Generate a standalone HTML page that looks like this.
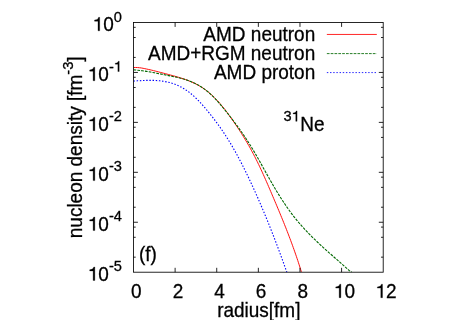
<!DOCTYPE html>
<html><head><meta charset="utf-8"><title>plot</title>
<style>
html,body{margin:0;padding:0;background:#fff;}
body{width:457px;height:320px;overflow:hidden;}
svg{display:block;will-change:transform;}
text{font-family:"Liberation Sans",sans-serif;fill:#000;stroke:#000;stroke-width:0.28px;font-size:19.0px;}
.h{fill:none;stroke:none;}
</style></head><body>
<svg width="457" height="320" viewBox="0 0 457 320">
<rect width="457" height="320" fill="#fff"/>
<defs><clipPath id="box"><rect x="133.5" y="22.5" width="249.70" height="249.70"/></clipPath></defs>
<g fill="none" stroke-width="0.95" stroke-linejoin="round" clip-path="url(#box)">
<path d="M133.49,81.02 L135.43,80.91 L137.38,80.80 L139.32,80.70 L141.26,80.61 L143.18,80.53 L145.10,80.45 L147.01,80.40 L148.90,80.37 L150.77,80.36 L152.62,80.38 L154.44,80.43 L156.24,80.52 L158.02,80.64 L159.76,80.80 L161.47,81.00 L163.16,81.24 L164.81,81.52 L166.44,81.84 L168.04,82.19 L169.61,82.59 L171.15,83.02 L172.66,83.49 L174.14,84.00 L175.59,84.54 L177.02,85.13 L178.41,85.75 L179.78,86.41 L181.12,87.10 L182.44,87.83 L183.73,88.59 L185.00,89.38 L186.25,90.20 L187.48,91.05 L188.68,91.93 L189.86,92.83 L191.03,93.76 L192.17,94.72 L193.30,95.69 L194.41,96.69 L195.51,97.71 L196.59,98.75 L197.66,99.81 L198.71,100.89 L199.75,101.98 L200.78,103.09 L201.80,104.21 L202.81,105.35 L203.81,106.49 L204.81,107.65 L205.79,108.82 L206.77,109.99 L207.75,111.18 L208.71,112.37 L209.68,113.56 L210.64,114.76 L211.59,115.97 L212.54,117.19 L213.49,118.41 L214.43,119.64 L215.36,120.87 L216.29,122.12 L217.21,123.37 L218.13,124.62 L219.04,125.89 L219.95,127.16 L220.84,128.44 L221.74,129.73 L222.63,131.03 L223.51,132.34 L224.38,133.65 L225.25,134.98 L226.11,136.31 L226.96,137.65 L227.81,139.00 L228.65,140.36 L229.49,141.72 L230.32,143.10 L231.14,144.48 L231.96,145.87 L232.77,147.27 L233.58,148.67 L234.38,150.08 L235.18,151.50 L235.97,152.93 L236.75,154.36 L237.53,155.80 L238.31,157.24 L239.08,158.70 L239.85,160.15 L240.61,161.62 L241.37,163.08 L242.12,164.56 L242.87,166.04 L243.62,167.52 L244.36,169.01 L245.10,170.51 L245.84,172.01 L246.57,173.51 L247.30,175.02 L248.02,176.53 L248.74,178.05 L249.46,179.57 L250.18,181.10 L250.89,182.62 L251.60,184.15 L252.31,185.69 L253.02,187.23 L253.72,188.77 L254.42,190.32 L255.12,191.86 L255.82,193.42 L256.51,194.97 L257.20,196.53 L257.89,198.09 L258.57,199.66 L259.25,201.23 L259.94,202.80 L260.61,204.37 L261.29,205.95 L261.96,207.54 L262.63,209.12 L263.30,210.71 L263.97,212.30 L264.63,213.89 L265.29,215.49 L265.95,217.09 L266.61,218.69 L267.26,220.30 L267.92,221.91 L268.57,223.52 L269.21,225.14 L269.86,226.75 L270.50,228.37 L271.15,230.00 L271.79,231.62 L272.42,233.25 L273.06,234.89 L273.69,236.52 L274.32,238.16 L274.95,239.80 L275.58,241.44 L276.21,243.08 L276.83,244.73 L277.45,246.38 L278.07,248.04 L278.69,249.69 L279.30,251.35 L279.92,253.01 L280.53,254.67 L281.14,256.34 L281.75,258.00 L282.36,259.67 L282.96,261.35 L283.56,263.02 L284.16,264.70 L284.76,266.38 L285.36,268.06 L285.96,269.74 L286.55,271.43 L287.04,272.20" stroke="#0000ff" stroke-width="1.1" stroke-dasharray="1.45,1.73"/>
<path d="M133.53,67.56 L135.62,67.48 L137.59,67.54 L139.48,67.72 L141.30,67.98 L143.08,68.30 L144.84,68.66 L146.59,69.02 L148.33,69.40 L150.05,69.79 L151.77,70.20 L153.48,70.61 L155.19,71.03 L156.89,71.46 L158.59,71.89 L160.28,72.33 L161.97,72.77 L163.66,73.22 L165.35,73.66 L167.03,74.11 L168.72,74.55 L170.40,75.01 L172.08,75.46 L173.76,75.92 L175.42,76.39 L177.09,76.87 L178.74,77.37 L180.38,77.87 L182.01,78.39 L183.63,78.93 L185.24,79.48 L186.83,80.06 L188.40,80.65 L189.96,81.27 L191.50,81.91 L193.01,82.58 L194.51,83.28 L195.99,84.00 L197.44,84.76 L198.87,85.55 L200.27,86.38 L201.65,87.23 L203.00,88.12 L204.33,89.04 L205.64,89.99 L206.92,90.97 L208.19,91.98 L209.43,93.01 L210.65,94.07 L211.86,95.16 L213.04,96.27 L214.21,97.40 L215.36,98.56 L216.50,99.74 L217.62,100.94 L218.72,102.16 L219.81,103.39 L220.89,104.65 L221.95,105.92 L223.01,107.21 L224.05,108.51 L225.08,109.83 L226.10,111.16 L227.11,112.50 L228.11,113.86 L229.11,115.22 L230.09,116.60 L231.08,117.98 L232.05,119.37 L233.02,120.76 L233.99,122.16 L234.95,123.57 L235.91,124.98 L236.86,126.40 L237.81,127.83 L238.76,129.26 L239.69,130.70 L240.63,132.15 L241.55,133.61 L242.47,135.07 L243.39,136.54 L244.30,138.02 L245.20,139.50 L246.10,141.00 L246.99,142.50 L247.87,144.02 L248.74,145.54 L249.61,147.07 L250.47,148.61 L251.33,150.16 L252.17,151.72 L253.01,153.30 L253.84,154.88 L254.67,156.47 L255.48,158.07 L256.29,159.68 L257.09,161.30 L257.89,162.93 L258.68,164.57 L259.47,166.21 L260.24,167.86 L261.02,169.52 L261.79,171.18 L262.55,172.85 L263.31,174.53 L264.07,176.21 L264.82,177.90 L265.57,179.59 L266.31,181.28 L267.06,182.98 L267.80,184.68 L268.53,186.39 L269.27,188.10 L270.01,189.81 L270.74,191.52 L271.47,193.23 L272.20,194.95 L272.93,196.66 L273.66,198.38 L274.39,200.09 L275.12,201.81 L275.85,203.53 L276.57,205.25 L277.30,206.98 L278.02,208.70 L278.74,210.43 L279.46,212.16 L280.18,213.89 L280.89,215.63 L281.60,217.37 L282.32,219.11 L283.02,220.85 L283.73,222.60 L284.43,224.35 L285.13,226.11 L285.83,227.87 L286.52,229.63 L287.21,231.40 L287.90,233.17 L288.58,234.95 L289.26,236.73 L289.94,238.52 L290.61,240.31 L291.28,242.11 L291.95,243.91 L292.61,245.72 L293.26,247.53 L293.91,249.35 L294.56,251.18 L295.20,253.01 L295.84,254.85 L296.47,256.70 L297.10,258.55 L297.72,260.41 L298.33,262.28 L298.94,264.16 L299.55,266.04 L300.15,267.93 L300.74,269.83 L301.33,271.73 L301.66,272.20" stroke="#ff0000"/>
<path d="M133.54,69.84 L135.73,70.02 L137.89,70.23 L140.03,70.47 L142.15,70.74 L144.25,71.04 L146.33,71.36 L148.40,71.70 L150.46,72.06 L152.50,72.43 L154.53,72.81 L156.56,73.20 L158.58,73.60 L160.60,74.01 L162.62,74.41 L164.63,74.81 L166.66,75.21 L168.68,75.61 L170.70,76.01 L172.72,76.42 L174.72,76.84 L176.71,77.27 L178.69,77.73 L180.65,78.22 L182.58,78.73 L184.49,79.29 L186.37,79.88 L188.21,80.51 L190.02,81.19 L191.79,81.92 L193.53,82.69 L195.24,83.51 L196.91,84.38 L198.55,85.28 L200.15,86.24 L201.73,87.23 L203.27,88.27 L204.78,89.35 L206.25,90.47 L207.70,91.63 L209.12,92.83 L210.50,94.07 L211.87,95.35 L213.20,96.66 L214.52,97.99 L215.81,99.36 L217.09,100.75 L218.34,102.16 L219.59,103.59 L220.82,105.04 L222.04,106.50 L223.25,107.98 L224.45,109.46 L225.65,110.95 L226.85,112.45 L228.04,113.95 L229.23,115.46 L230.41,116.97 L231.59,118.49 L232.76,120.02 L233.92,121.55 L235.08,123.09 L236.24,124.64 L237.39,126.20 L238.53,127.77 L239.66,129.35 L240.79,130.94 L241.91,132.53 L243.02,134.14 L244.12,135.76 L245.22,137.39 L246.30,139.03 L247.38,140.68 L248.45,142.35 L249.50,144.02 L250.55,145.71 L251.59,147.42 L252.62,149.13 L253.65,150.85 L254.67,152.58 L255.68,154.32 L256.68,156.07 L257.68,157.82 L258.68,159.58 L259.67,161.35 L260.66,163.12 L261.65,164.89 L262.64,166.66 L263.62,168.43 L264.61,170.21 L265.59,171.98 L266.58,173.76 L267.57,175.53 L268.56,177.29 L269.55,179.06 L270.55,180.81 L271.55,182.57 L272.56,184.31 L273.57,186.05 L274.59,187.78 L275.62,189.50 L276.65,191.22 L277.68,192.92 L278.73,194.62 L279.78,196.30 L280.84,197.98 L281.91,199.64 L282.99,201.29 L284.07,202.94 L285.17,204.56 L286.27,206.18 L287.39,207.78 L288.51,209.37 L289.65,210.95 L290.79,212.51 L291.95,214.05 L293.12,215.59 L294.30,217.10 L295.49,218.60 L296.70,220.08 L297.92,221.55 L299.15,223.00 L300.39,224.43 L301.64,225.86 L302.90,227.26 L304.17,228.66 L305.45,230.04 L306.74,231.41 L308.04,232.77 L309.35,234.11 L310.67,235.45 L311.99,236.77 L313.32,238.09 L314.66,239.39 L316.01,240.69 L317.36,241.98 L318.72,243.26 L320.08,244.53 L321.45,245.80 L322.82,247.06 L324.20,248.31 L325.58,249.57 L326.96,250.81 L328.35,252.05 L329.74,253.29 L331.13,254.53 L332.52,255.76 L333.92,256.99 L335.31,258.22 L336.71,259.45 L338.11,260.67 L339.50,261.90 L340.90,263.13 L342.30,264.36 L343.69,265.59 L345.08,266.82 L346.48,268.06 L347.86,269.30 L349.25,270.54 L350.63,271.79 L351.76,272.20" stroke="#006800" stroke-width="1.1" stroke-dasharray="2.7,1.13"/>
<path d="M326.85,34.45 H376.8" stroke="#ff0000" stroke-width="0.85"/>
<path d="M326.85,53.6 H376.8" stroke="#006800" stroke-width="0.85" stroke-dasharray="2.7,1.13"/>
<path d="M326.85,72.58 H376.8" stroke="#0000ff" stroke-width="0.85" stroke-dasharray="1.45,1.73"/>
</g>
<g fill="none" stroke="#000" stroke-width="0.85">
<rect x="133.5" y="22.5" width="249.70" height="249.70"/>
<path d="M133.5,27.34 h2.2 M383.2,27.34 h-2.2 M133.5,37.53 h2.2 M383.2,37.53 h-2.2 M133.5,57.41 h2.2 M383.2,57.41 h-2.2 M133.5,72.44 h4.4 M383.2,72.44 h-4.4 M133.5,77.28 h2.2 M383.2,77.28 h-2.2 M133.5,87.47 h2.2 M383.2,87.47 h-2.2 M133.5,107.35 h2.2 M383.2,107.35 h-2.2 M133.5,122.38 h4.4 M383.2,122.38 h-4.4 M133.5,127.22 h2.2 M383.2,127.22 h-2.2 M133.5,137.41 h2.2 M383.2,137.41 h-2.2 M133.5,157.29 h2.2 M383.2,157.29 h-2.2 M133.5,172.32 h4.4 M383.2,172.32 h-4.4 M133.5,177.16 h2.2 M383.2,177.16 h-2.2 M133.5,187.35 h2.2 M383.2,187.35 h-2.2 M133.5,207.23 h2.2 M383.2,207.23 h-2.2 M133.5,222.26 h4.4 M383.2,222.26 h-4.4 M133.5,227.10 h2.2 M383.2,227.10 h-2.2 M133.5,237.29 h2.2 M383.2,237.29 h-2.2 M133.5,257.17 h2.2 M383.2,257.17 h-2.2 M175.12,272.2 v-4.4 M175.12,22.5 v4.4 M216.73,272.2 v-4.4 M216.73,22.5 v4.4 M258.35,272.2 v-4.4 M258.35,22.5 v4.4 M299.97,272.2 v-4.4 M299.97,22.5 v4.4 M341.58,272.2 v-4.4 M341.58,22.5 v4.4"/>
</g>
<text text-anchor="end" transform="translate(121.90,30.80) scale(1,1.03)"><tspan class="h">1</tspan>0<tspan font-size="14.63" dy="-8.93">0</tspan></text>
<text text-anchor="end" transform="translate(121.90,80.74) scale(1,1.03)"><tspan class="h">1</tspan>0<tspan font-size="14.63" dy="-8.93">-<tspan class="h">1</tspan></tspan></text>
<text text-anchor="end" transform="translate(121.90,130.68) scale(1,1.03)"><tspan class="h">1</tspan>0<tspan font-size="14.63" dy="-8.93">-2</tspan></text>
<text text-anchor="end" transform="translate(121.90,180.62) scale(1,1.03)"><tspan class="h">1</tspan>0<tspan font-size="14.63" dy="-8.93">-3</tspan></text>
<text text-anchor="end" transform="translate(121.90,230.56) scale(1,1.03)"><tspan class="h">1</tspan>0<tspan font-size="14.63" dy="-8.93">-4</tspan></text>
<text text-anchor="end" transform="translate(121.90,280.50) scale(1,1.03)"><tspan class="h">1</tspan>0<tspan font-size="14.63" dy="-8.93">-5</tspan></text>
<text text-anchor="middle" transform="translate(136.30,297.70) scale(1,1.03)">0</text>
<text text-anchor="middle" transform="translate(177.92,297.70) scale(1,1.03)">2</text>
<text text-anchor="middle" transform="translate(219.53,297.70) scale(1,1.03)">4</text>
<text text-anchor="middle" transform="translate(261.15,297.70) scale(1,1.03)">6</text>
<text text-anchor="middle" transform="translate(302.77,297.70) scale(1,1.03)">8</text>
<text text-anchor="middle" transform="translate(344.38,297.70) scale(1,1.03)"><tspan class="h">1</tspan>0</text>
<text text-anchor="middle" transform="translate(386.00,297.70) scale(1,1.03)"><tspan class="h">1</tspan>2</text>
<text text-anchor="middle" transform="translate(258.80,316.90) scale(1,1.03)">radius[fm]</text>
<text text-anchor="middle" transform="translate(81.90,147.30) rotate(-90) scale(1,1.03)">nucleon density [fm<tspan font-size="14.63" dy="-8.93">-3</tspan><tspan dx="0" dy="8.93">]</tspan></text>
<text text-anchor="end" transform="translate(315.20,41.10) scale(1,1.03)">AMD neutron</text>
<text text-anchor="end" transform="translate(315.20,59.90) scale(1,1.03)">AMD+RGM neutron</text>
<text text-anchor="end" transform="translate(315.20,78.90) scale(1,1.03)">AMD proton</text>
<text text-anchor="start" transform="translate(283.50,130.50) scale(1,1.03)"><tspan font-size="14.63" dy="-8.93">3<tspan class="h">1</tspan></tspan><tspan dx="0.6" dy="8.93">Ne</tspan></text>
<text text-anchor="start" transform="translate(139.00,260.60) scale(1,1.03)">(f)</text>
<path d="M371,0 H282 V505 H102 V568 Q205,574 256,612 Q302,648 314,709 H371 Z" transform="translate(92.64,30.80) scale(0.01900,-0.01900)" fill="#000" stroke="#000" stroke-width="15.8"/>
<path d="M371,0 H282 V505 H102 V568 Q205,574 256,612 Q302,648 314,709 H371 Z" transform="translate(87.76,80.74) scale(0.01900,-0.01900)" fill="#000" stroke="#000" stroke-width="15.8"/>
<path d="M371,0 H282 V505 H102 V568 Q205,574 256,612 Q302,648 314,709 H371 Z" transform="translate(113.76,71.54) scale(0.01463,-0.01463)" fill="#000" stroke="#000" stroke-width="20.5"/>
<path d="M371,0 H282 V505 H102 V568 Q205,574 256,612 Q302,648 314,709 H371 Z" transform="translate(87.78,130.68) scale(0.01900,-0.01900)" fill="#000" stroke="#000" stroke-width="15.8"/>
<path d="M371,0 H282 V505 H102 V568 Q205,574 256,612 Q302,648 314,709 H371 Z" transform="translate(87.78,180.62) scale(0.01900,-0.01900)" fill="#000" stroke="#000" stroke-width="15.8"/>
<path d="M371,0 H282 V505 H102 V568 Q205,574 256,612 Q302,648 314,709 H371 Z" transform="translate(87.78,230.56) scale(0.01900,-0.01900)" fill="#000" stroke="#000" stroke-width="15.8"/>
<path d="M371,0 H282 V505 H102 V568 Q205,574 256,612 Q302,648 314,709 H371 Z" transform="translate(87.78,280.50) scale(0.01900,-0.01900)" fill="#000" stroke="#000" stroke-width="15.8"/>
<path d="M371,0 H282 V505 H102 V568 Q205,574 256,612 Q302,648 314,709 H371 Z" transform="translate(333.82,297.70) scale(0.01900,-0.01900)" fill="#000" stroke="#000" stroke-width="15.8"/>
<path d="M371,0 H282 V505 H102 V568 Q205,574 256,612 Q302,648 314,709 H371 Z" transform="translate(375.44,297.70) scale(0.01900,-0.01900)" fill="#000" stroke="#000" stroke-width="15.8"/>
<path d="M371,0 H282 V505 H102 V568 Q205,574 256,612 Q302,648 314,709 H371 Z" transform="translate(291.64,121.30) scale(0.01463,-0.01463)" fill="#000" stroke="#000" stroke-width="20.5"/>
</svg>
</body></html>
